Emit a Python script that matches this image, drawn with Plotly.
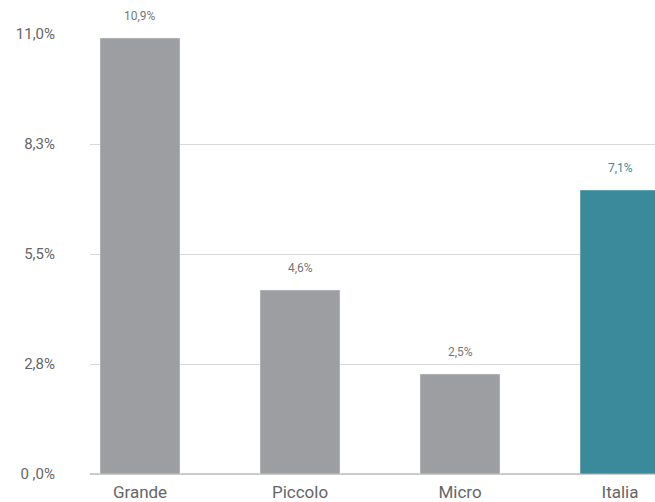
import plotly.graph_objects as go

categories = ["Grande", "Piccolo", "Micro", "Italia"]
values = [10.9, 4.6, 2.5, 7.1]
value_labels = ["10,9%", "4,6%", "2,5%", "7,1%"]
bar_colors = ["#9d9ea2", "#9d9ea2", "#9d9ea2", "#3a8a9b"]
label_colors = ["#777777", "#777777", "#777777", "#3a8a9b"]
tick_vals = [0, 2.75, 5.5, 8.25, 11]
tick_text = ["0 ,0%", "2,8%", "5,5%", "8,3%", "11,0%"]

FONT = "Roboto, Liberation Sans Narrow, Arial"

fig = go.Figure(go.Bar(
    x=categories, y=values, marker_color=bar_colors, width=0.5,
    cliponaxis=False, hoverinfo="skip",
))

for cat, val, lab, col in zip(categories, values, value_labels, label_colors):
    fig.add_annotation(x=cat, y=val, text=lab, showarrow=False,
                       yanchor="bottom", yshift=13,
                       font=dict(family=FONT, size=12, color=col))

fig.update_layout(
    width=655, height=502,
    margin=dict(l=90, r=0, t=34, b=28),
    paper_bgcolor="white", plot_bgcolor="white",
    showlegend=False,
    font=dict(family=FONT, color="#666666"),
    xaxis=dict(range=[-0.3125, 3.21875], showgrid=False, showline=False,
               tickfont=dict(size=17, color="#666666"), ticks="", ticklen=0,
               ticklabelstandoff=6),
    yaxis=dict(range=[0, 11], tickvals=tick_vals, ticktext=tick_text,
               showgrid=True, gridcolor="#d9d9d9", gridwidth=1,
               zeroline=True, zerolinecolor="#cccccc", zerolinewidth=1.5,
               showline=False, tickfont=dict(size=15, color="#666666"),
               ticklabelstandoff=34),
    bargap=0.5,
)

fig.write_html(
    "out.html",
    config={"displayModeBar": False},
    post_script="document.body.style.margin='0';document.body.style.overflow='hidden';",
)
